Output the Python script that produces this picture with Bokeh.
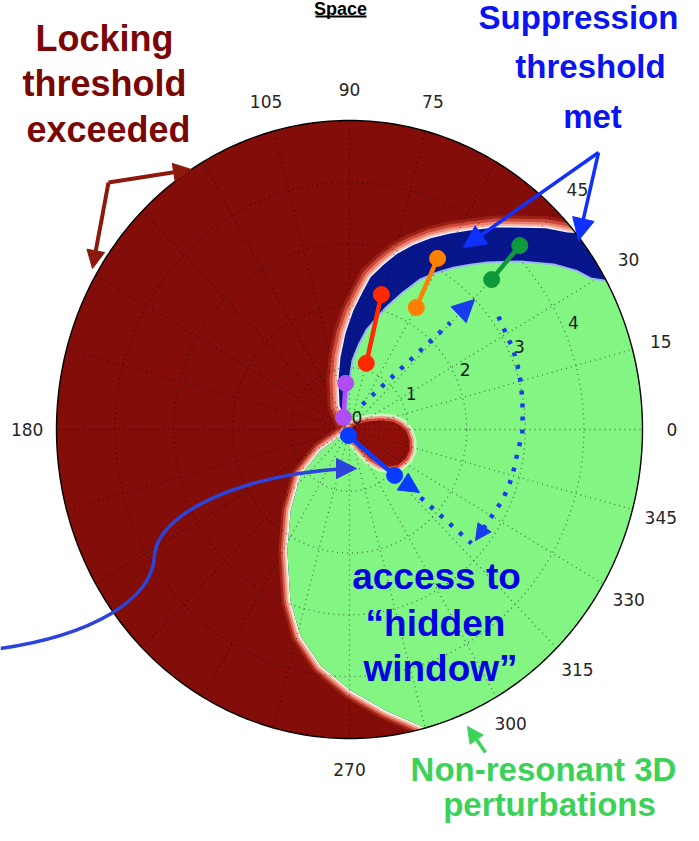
import numpy as np
from bokeh.plotting import figure
from bokeh.models import Range1d, Arrow, NormalHead
from bokeh.core.properties import value
from bokeh.embed import file_html
from bokeh.resources import INLINE

# ---------------- data (polar: r, angle in degrees) ----------------
R_MAX = 5
radial_ticks = [0, 1, 2, 3, 4]
grid_angles = list(range(0, 360, 15))
angle_labels = [0, 15, 30, 45, 75, 90, 105, 180, 270, 300, 315, 330, 345]

# suppression band: outer edge (towards locking region)
band_outer_r = [0.0, 0.42, 0.82, 1.18, 1.56, 1.93, 2.23, 2.49, 2.73, 2.96, 3.17, 3.39, 3.61, 3.83, 4.11, 4.38, 4.67, 4.90, 5.0]
band_outer_th = [120, 113.8, 103.3, 97.5, 92.5, 88.0, 84.3, 81.7, 77.7, 74.0, 70.1, 65.9, 61.5, 57.3, 52.7, 48.2, 44.2, 40.6, 39.5]
# suppression band: inner edge (towards non-resonant region)
band_inner_r = [0.0, 0.42, 0.79, 1.12, 1.37, 1.63, 1.86, 2.08, 2.39, 2.70, 2.94, 3.15, 3.36, 3.57, 3.98, 4.38, 4.63, 4.78, 5.0]
band_inner_th = [90, 94.6, 88.8, 86.5, 82.8, 79.2, 75.1, 71.8, 67.3, 63.3, 59.2, 55.7, 52.1, 48.8, 42.8, 37.3, 33.5, 30.5, 28.5]
# locking threshold edge (lower-left border of the non-resonant region)
lock_edge_r = [0.0, 0.60, 1.12, 1.65, 2.23, 2.95, 3.44, 3.85, 4.22, 4.59, 5.0]
lock_edge_th = [-144, -145.5, -138.3, -127.5, -118.4, -110.0, -104.1, -97.4, -89.8, -82.3, -75.0]
# small locking lobe near the origin
lobe_r = [0.0, 0.13, 0.33, 0.55, 0.75, 0.87, 0.97, 1.04, 1.08, 1.07, 1.01, 0.92, 0.78, 0.59, 0.36, 0.16]
lobe_th = [0, 38.5, 22.8, 15.4, 10.0, 4.3, -1.9, -9.9, -18.4, -26.1, -34.1, -40.6, -46.9, -52.6, -58.5, -70.7]

# measured pairs (start, end)
pair_colors = ["#b04cf2", "#ff2a00", "#ff8000", "#0e9a3c", "#0a3cff"]
pair_r = [[0.22, 0.75], [1.11, 2.25], [2.28, 3.15], [3.43, 4.16], [0.10, 1.07]]
pair_th = [[118, 95], [75, 76], [60, 61.5], [45, 45.7], [-100, -44]]

# dotted paths
path_a_r = [0.46, 2.44]
path_a_th = [61.3, 45.1]
arc_r = [3.13, 3.09, 3.08, 3.05, 3.02, 2.99, 2.96, 2.95, 2.89, 2.88, 2.87, 2.85, 2.81, 2.79]
arc_th = [35.7, 30.5, 25.2, 19.9, 14.6, 9.3, 3.8, -1.3, -7.4, -12.3, -17.8, -23.5, -28.9, -35.0]
path_b_r = [1.64, 2.78]
path_b_th = [-42.2, -41.5]

# ---------------- layout ----------------
W, H = 683, 825
CX, CY = 349, 429          # centre of the polar disk in pixels
SX, SY = 58.6, 61.8        # pixels per radial unit (x, y)
TXT_SHIFT = 12             # baseline correction for bold annotation texts (px)


def pol(r, th):
    r = np.asarray(r, float)
    t = np.radians(np.asarray(th, float))
    return r * np.cos(t), r * np.sin(t)


def px(X, Y):
    """pixel position -> data coordinates (for annotations)"""
    return (X - CX) / SX, (CY - Y) / SY


p = figure(width=W, height=H, output_backend="svg", toolbar_location=None,
           x_range=Range1d(-CX / SX, (W - CX) / SX),
           y_range=Range1d(-(H - CY) / SY, CY / SY),
           x_axis_location=None, y_axis_location=None, min_border=0)
p.outline_line_color = None
p.grid.visible = False
p.background_fill_color = "white"
p.border_fill_color = "white"

DARK_RED = "#820d09"
GREEN = "#82f582"
NAVY = "#07168a"

full = np.linspace(0, 360, 361)
dx, dy = pol(np.full(full.shape, R_MAX), full)
p.patch(dx, dy, fill_color=DARK_RED, line_color=None)

ox, oy = pol(band_outer_r, band_outer_th)
ix, iy = pol(band_inner_r, band_inner_th)
lx, ly = pol(lock_edge_r, lock_edge_th)

halo_a = [(24, "#9a2016"), (18, "#cc4a3a"), (12, "#ec8272"), (7, "#f9b8a8"), (3, "#eef0ff")]
for w, c in halo_a:
    p.line(ox, oy, line_width=w, line_color=c, line_join="round", line_cap="round")
halo_b = [(18, "#a02418"), (13, "#d65a48"), (9, "#f09a88"), (5, "#fcd6c8"), (2, "#fffaf0")]
for w, c in halo_b:
    p.line(lx, ly, line_width=w, line_color=c, line_join="round", line_cap="round")

# suppression (blue) region
arc1 = np.linspace(band_outer_th[-1], lock_edge_th[-1], 80)
a1x, a1y = pol(np.full(arc1.shape, R_MAX), arc1)
bx = np.concatenate([ox, a1x, lx[::-1]])
by = np.concatenate([oy, a1y, ly[::-1]])
p.patch(bx, by, fill_color=NAVY, line_color=None)

p.line(ix, iy, line_width=4, line_color="#9ab6f0")

# non-resonant (green) region
arc2 = np.linspace(band_inner_th[-1], lock_edge_th[-1], 80)
a2x, a2y = pol(np.full(arc2.shape, R_MAX), arc2)
gx = np.concatenate([ix, a2x, lx[::-1]])
gy = np.concatenate([iy, a2y, ly[::-1]])
p.patch(gx, gy, fill_color=GREEN, line_color=None)

# lobe
lbx, lby = pol(lobe_r + [lobe_r[0]], lobe_th + [lobe_th[0]])
for w, c, a in [(14, "#fbf6e6", 0.6), (9, "#f2a090", 1.0), (5, "#d84a38", 1.0)]:
    p.line(lbx, lby, line_width=w, line_color=c, line_alpha=a, line_join="round")
p.patch(lbx, lby, fill_color="#8e0f0a", line_color=None)

# grid
ring_t = np.linspace(0, 360, 241)
gxs, gys = [], []
for r in radial_ticks[1:]:
    x, y = pol(np.full(ring_t.shape, r), ring_t)
    gxs.append(x); gys.append(y)
for a in grid_angles:
    x, y = pol([0, R_MAX], [a, a])
    gxs.append(x); gys.append(y)
p.multi_line(gxs, gys, line_color="black", line_alpha=0.5, line_width=1.3, line_dash="1 4")

# mask outside the disk
mx, my = pol(np.full(full.shape, R_MAX), full)
p.multi_polygons(xs=[[[[-20, 20, 20, -20], list(mx)]]], ys=[[[[-20, -20, 20, 20], list(my)]]],
                 fill_color="white", line_color=None)
p.line(mx, my, line_color="black", line_width=1.4)

# tick labels
lab_x, lab_y = pol(np.full(len(angle_labels), 5.5), angle_labels)
p.text(lab_x, lab_y, text=[str(a) for a in angle_labels], text_align="center",
       text_baseline="middle", text_font=value("DejaVu Sans"), text_font_size="17px",
       text_color="#262626")
rl_x, rl_y = pol(radial_ticks, [22.5] * len(radial_ticks))
p.text(rl_x + 2 / SX, rl_y + 6 / SY, text=[str(r) for r in radial_ticks], text_align="left",
       text_baseline="bottom", text_font=value("DejaVu Sans"), text_font_size="17px",
       text_color="#1e1e1e")

# dotted paths
DOT = "#1a3cf0"
for rr, tt in [(path_a_r, path_a_th), (arc_r, arc_th), (path_b_r, path_b_th)]:
    x, y = pol(rr, tt)
    p.line(x, y, line_color=DOT, line_width=4.5, line_dash="4 9")


def head(X0, Y0, X1, Y1, color, size):
    x0, y0 = px(X0, Y0)
    x1, y1 = px(X1, Y1)
    p.add_layout(Arrow(x_start=x0, y_start=y0, x_end=x1, y_end=y1, line_alpha=0,
                       end=NormalHead(size=size, fill_color=color, line_color=color)))


def arrow(X0, Y0, X1, Y1, color, size, width):
    x0, y0 = px(X0, Y0)
    x1, y1 = px(X1, Y1)
    p.add_layout(Arrow(x_start=x0, y_start=y0, x_end=x1, y_end=y1, line_color=color,
                       line_width=width,
                       end=NormalHead(size=size, fill_color=color, line_color=color)))


head(452, 320, 474, 299, DOT, 22)
head(486, 524, 475, 540, DOT, 16)

# measured pairs
for c, rr, tt in zip(pair_colors, pair_r, pair_th):
    x, y = pol(rr, tt)
    p.line(x, y, line_color=c, line_width=4.5)
    p.scatter(x, y, size=16, fill_color=c, line_color=c)
head(396, 477, 419, 492, pair_colors[-1], 20)

# big blue curved arrow
CURVE = "#2a44dc"
b0 = [px(0, 648), px(154, 555)]
b1 = [px(154, 555), px(345, 468)]
c0 = [px(90, 635), px(156, 515)]
c1 = [px(152, 600), px(235, 475)]
p.bezier(x0=[b[0] for b in b0], y0=[b[1] for b in b0], x1=[b[0] for b in b1], y1=[b[1] for b in b1],
         cx0=[c[0] for c in c0], cy0=[c[1] for c in c0], cx1=[c[0] for c in c1], cy1=[c[1] for c in c1],
         line_color=CURVE, line_width=3.5)
head(335, 468, 356, 468, CURVE, 20)

# locking arrows
LRED = "#8c1a0c"
arrow(108, 182, 191, 169, LRED, 18, 4)
arrow(108, 182, 92, 268, LRED, 18, 4)
# suppression arrows
SBLUE = "#1030ff"
arrow(598, 152, 463, 247, SBLUE, 22, 3.5)
arrow(598, 152, 578, 240, SBLUE, 22, 3.5)
# non-resonant arrow
NGREEN = "#3cd25a"
arrow(485, 752, 467, 726, NGREEN, 16, 3.5)


def words(lines, color, size, align="center"):
    xs, ys, ts = [], [], []
    for X, Y, t in lines:
        x, y = px(X, Y - TXT_SHIFT)
        xs.append(x); ys.append(y); ts.append(t)
    p.text(xs, ys, text=ts, text_align=align, text_baseline="alphabetic",
           text_font=value("Liberation Sans"), text_font_style="bold",
           text_font_size=size, text_color=color)


words([(104, 50, "Locking"), (104, 95, "threshold"), (108, 141, "exceeded")], "#7a0606", "36px")
words([(578, 29, "Suppression"), (590, 78, "threshold"), (592, 128, "met")], "#0a14f0", "33px")
words([(436, 588, "access to"), (435, 635, "\u201chidden"), (440, 680, "window\u201d")], "#0404e2", "37px")
words([(543, 781, "Non-resonant 3D"), (549, 816, "perturbations")], NGREEN, "33px")
words([(340, 20, "Space")], "black", "18px")
ux0, uy0 = px(315, 16)
ux1, uy1 = px(366, 16)
p.line([ux0, ux1], [uy0, uy1], line_color="black", line_width=2)

open("out.html", "w").write(file_html(p, INLINE))
